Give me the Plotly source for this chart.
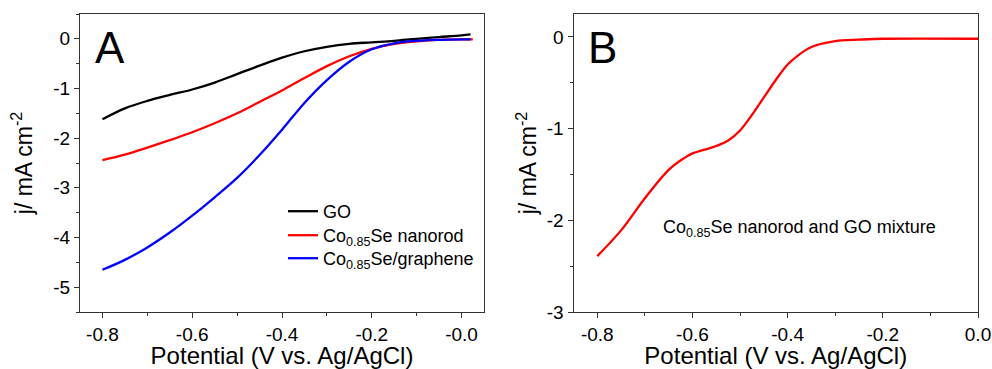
import plotly.graph_objects as go

# ---------------- data ----------------
# Panel A
go_x = [-0.80, -0.75, -0.70, -0.65, -0.60, -0.55, -0.50, -0.45, -0.40, -0.35, -0.30, -0.25, -0.20, -0.15, -0.10, -0.05, 0.00, 0.02]
go_y = [-1.62, -1.40, -1.25, -1.13, -1.02, -0.88, -0.71, -0.54, -0.38, -0.25, -0.16, -0.10, -0.07, -0.04, 0.00, 0.035, 0.07, 0.09]

rod_x = [-0.80, -0.75, -0.70, -0.65, -0.60, -0.55, -0.50, -0.45, -0.40, -0.35, -0.30, -0.25, -0.20, -0.15, -0.10, -0.05, 0.00, 0.025]
rod_y = [-2.44, -2.33, -2.19, -2.04, -1.88, -1.70, -1.50, -1.27, -1.04, -0.79, -0.55, -0.35, -0.20, -0.10, -0.05, -0.02, -0.01, -0.01]

gr_x = [-0.80, -0.75, -0.70, -0.65, -0.60, -0.55, -0.50, -0.45, -0.40, -0.35, -0.30, -0.25, -0.20, -0.15, -0.10, -0.05, 0.00, 0.02]
gr_y = [-4.65, -4.45, -4.20, -3.90, -3.56, -3.19, -2.80, -2.34, -1.83, -1.29, -0.83, -0.46, -0.21, -0.09, -0.04, -0.02, -0.01, -0.01]

# Panel B
mix_x = [-0.80, -0.75, -0.70, -0.65, -0.62, -0.60, -0.575, -0.55, -0.525, -0.50, -0.475, -0.45, -0.425, -0.40, -0.375, -0.35, -0.325, -0.30, -0.25, -0.20, 0.00]
mix_y = [-2.39, -2.11, -1.76, -1.45, -1.33, -1.27, -1.23, -1.19, -1.13, -1.02, -0.85, -0.66, -0.47, -0.30, -0.19, -0.11, -0.07, -0.045, -0.03, -0.02, -0.02]

xa_ticks = [-0.8, -0.6, -0.4, -0.2, 0.0]
xa_text = ["-0.8", "-0.6", "-0.4", "-0.2", "-0.0"]
xb_text = ["-0.8", "-0.6", "-0.4", "-0.2", "0.0"]
ya_ticks = [0, -1, -2, -3, -4, -5]
ya_text = ["0", "-1", "-2", "-3", "-4", "-5"]
yb_ticks = [0, -1, -2, -3]
yb_text = ["0", "-1", "-2", "-3"]

FONT = "Arial, Liberation Sans, sans-serif"
LW = 2.3

fig = go.Figure()
fig.add_trace(go.Scatter(x=go_x, y=go_y, mode="lines", name="GO", legend="legend",
                         line=dict(color="#000000", width=LW, shape="spline", smoothing=1.0),
                         xaxis="x", yaxis="y"))
fig.add_trace(go.Scatter(x=rod_x, y=rod_y, mode="lines", name="Co<sub>0.85</sub>Se nanorod", legend="legend2",
                         line=dict(color="#ff0000", width=LW, shape="spline", smoothing=1.0),
                         xaxis="x", yaxis="y"))
fig.add_trace(go.Scatter(x=gr_x, y=gr_y, mode="lines", name="Co<sub>0.85</sub>Se/graphene", legend="legend3",
                         line=dict(color="#0000ff", width=LW, shape="spline", smoothing=1.0),
                         xaxis="x", yaxis="y"))
fig.add_trace(go.Scatter(x=mix_x, y=mix_y, mode="lines", name="mixture", showlegend=False,
                         line=dict(color="#ff0000", width=LW, shape="spline", smoothing=1.0),
                         xaxis="x2", yaxis="y2"))

W, H = 992, 369
axline = dict(showline=True, linecolor="#333333", linewidth=1, mirror=True,
              ticks="outside", ticklen=5, tickcolor="#333333", tickwidth=1,
              showgrid=False, zeroline=False, automargin=False,
              tickfont=dict(family=FONT, size=19, color="#000000"))
xtitle = dict(text="Potential (V vs. Ag/AgCl)", font=dict(family=FONT, size=24, color="#000000"))
minor_x = dict(ticks="outside", ticklen=3, dtick=0.1, tick0=0, tickcolor="#333333")
minor_y = dict(ticks="outside", ticklen=3, dtick=0.5, tick0=0, tickcolor="#333333")


def ytitle(standoff):
    return dict(text="j/ mA cm<sup>-2</sup>", standoff=standoff,
                font=dict(family=FONT, size=23, color="#000000"))


def leg(ytop):
    return dict(x=283 / W, y=1 - ytop / H, xanchor="left", yanchor="top",
                bgcolor="rgba(0,0,0,0)", borderwidth=0,
                font=dict(family=FONT, size=18, color="#000000"))


fig.update_layout(
    template="none",
    width=W, height=H,
    margin=dict(l=0, r=0, t=0, b=0, autoexpand=False),
    paper_bgcolor="white", plot_bgcolor="white",
    xaxis=dict(domain=[80 / W, 484 / W], range=[-0.85, 0.05], anchor="y",
               tickvals=xa_ticks, ticktext=xa_text, title=xtitle, minor=minor_x, **axline),
    yaxis=dict(domain=[1 - 312 / H, 1 - 14 / H], range=[-5.5, 0.5], anchor="x",
               tickvals=ya_ticks, ticktext=ya_text, title=ytitle(14), minor=minor_y, **axline),
    xaxis2=dict(domain=[573.5 / W, 978 / W], range=[-0.85, 0.0], anchor="y2",
                tickvals=xa_ticks, ticktext=xb_text, title=xtitle, minor=minor_x, **axline),
    yaxis2=dict(domain=[1 - 312 / H, 1 - 14 / H], range=[-3, 0.25], anchor="x2",
                tickvals=yb_ticks, ticktext=yb_text, title=ytitle(3), minor=minor_y, **axline),
    legend=leg(193),
    legend2=leg(217),
    legend3=leg(240),
    showlegend=True,
    annotations=[
        dict(text="A", x=93 / W, y=1 - 47 / H, xref="paper", yref="paper",
             xanchor="left", yanchor="middle", showarrow=False,
             font=dict(family=FONT, size=44, color="#000000")),
        dict(text="B", x=586 / W, y=1 - 47 / H, xref="paper", yref="paper",
             xanchor="left", yanchor="middle", showarrow=False,
             font=dict(family=FONT, size=44, color="#000000")),
        dict(text="Co<sub>0.85</sub>Se nanorod and GO mixture", x=661 / W, y=1 - 228 / H,
             xref="paper", yref="paper", xanchor="left", yanchor="middle", showarrow=False,
             font=dict(family=FONT, size=18, color="#000000")),
    ],
)

fig.write_html("out.html")
